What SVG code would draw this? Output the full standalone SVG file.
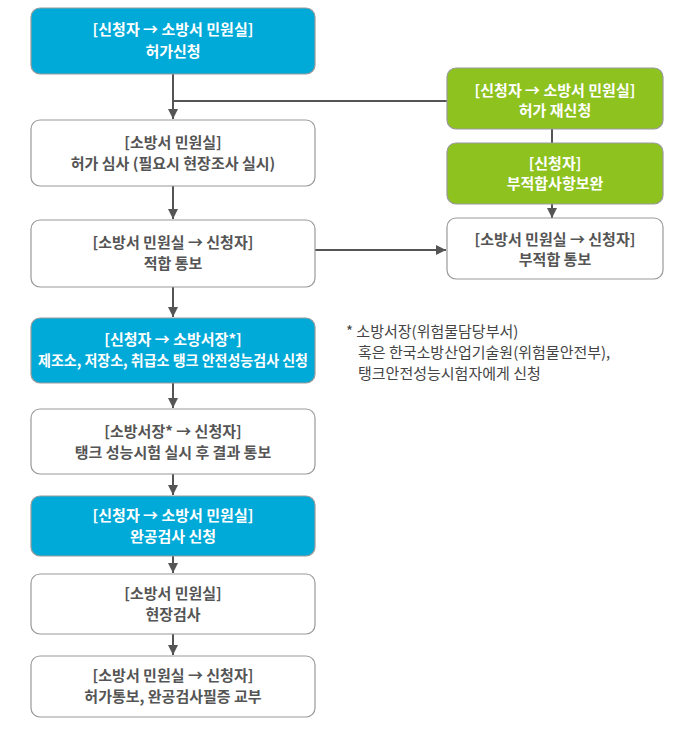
<svg xmlns="http://www.w3.org/2000/svg" width="685" height="746" viewBox="0 0 685 746">
<defs>
<style>
.box{stroke:#999;stroke-width:1.2}
.cyan{fill:#00aad8}
.green{fill:#8dc21f}
.white{fill:#fff}
.t{font-family:"Noto Sans CJK KR","Noto Sans",sans-serif;font-size:15px;font-weight:bold;text-anchor:middle}
.tw{fill:#fff}
.tg{fill:#555}
.note{font-family:"Noto Sans CJK KR","Noto Sans",sans-serif;font-size:15px;fill:#444}
.c{stroke:#555;stroke-width:2;fill:none}
</style>
<marker id="ah" viewBox="0 0 10 10" refX="10" refY="5" markerWidth="5" markerHeight="5" orient="auto" markerUnits="strokeWidth">
<path d="M0,0 L10,5 L0,10 Z" fill="#555"/>
</marker>
</defs>
<rect width="685" height="746" fill="#fff"/>
<g id="connectors">
<line class="c" x1="173" y1="74" x2="173" y2="119" marker-end="url(#ah)"/>
<line class="c" x1="173" y1="101" x2="447" y2="101"/>
<line class="c" x1="173" y1="186" x2="173" y2="219" marker-end="url(#ah)"/>
<line class="c" x1="173" y1="287" x2="173" y2="317" marker-end="url(#ah)"/>
<line class="c" x1="315" y1="250" x2="446" y2="250" marker-end="url(#ah)"/>
<line class="c" x1="552" y1="129" x2="552" y2="143"/>
<line class="c" x1="552" y1="204" x2="552" y2="218" marker-end="url(#ah)"/>
<line class="c" x1="173" y1="383" x2="173" y2="408" marker-end="url(#ah)"/>
<line class="c" x1="173" y1="474" x2="173" y2="495" marker-end="url(#ah)"/>
<line class="c" x1="173" y1="556" x2="173" y2="573" marker-end="url(#ah)"/>
<line class="c" x1="173" y1="634" x2="173" y2="655" marker-end="url(#ah)"/>
</g>
<g id="n1">
<rect class="box cyan" x="31" y="8" width="284" height="66" rx="9"/>
<text class="t tw" x="173" y="35">[신청자 → 소방서 민원실]</text>
<text class="t tw" x="173" y="57">허가신청</text>
</g>
<g id="n2">
<rect class="box white" x="31" y="120" width="284" height="66" rx="9"/>
<text class="t tg" x="173" y="148">[소방서 민원실]</text>
<text class="t tg" x="173" y="169">허가 심사 (필요시 현장조사 실시)</text>
</g>
<g id="n3">
<rect class="box white" x="31" y="220" width="284" height="67" rx="9"/>
<text class="t tg" x="173" y="248">[소방서 민원실 → 신청자]</text>
<text class="t tg" x="173" y="269">적합 통보</text>
</g>
<g id="r1">
<rect class="box green" x="447" y="68" width="216" height="61" rx="9"/>
<text class="t tw" x="555" y="96">[신청자 → 소방서 민원실]</text>
<text class="t tw" x="555" y="116">허가 재신청</text>
</g>
<g id="r2">
<rect class="box green" x="447" y="143" width="216" height="61" rx="9"/>
<text class="t tw" x="555" y="169">[신청자]</text>
<text class="t tw" x="555" y="189">부적합사항보완</text>
</g>
<g id="r3">
<rect class="box white" x="447" y="218" width="216" height="61" rx="9"/>
<text class="t tg" x="555" y="245">[소방서 민원실 → 신청자]</text>
<text class="t tg" x="555" y="265">부적합 통보</text>
</g>
<g id="n4">
<rect class="box cyan" x="31" y="318" width="284" height="65" rx="9"/>
<text class="t tw" x="173" y="345">[신청자 → 소방서장*]</text>
<text class="t tw" x="173" y="366" textLength="270" lengthAdjust="spacingAndGlyphs">제조소, 저장소, 취급소 탱크 안전성능검사 신청</text>
</g>
<g id="note">
<text class="note" x="346" y="337">* 소방서장(위험물담당부서)</text>
<text class="note" x="358" y="358">혹은 한국소방산업기술원(위험물안전부),</text>
<text class="note" x="358" y="379">탱크안전성능시험자에게 신청</text>
</g>
<g id="n5">
<rect class="box white" x="31" y="409" width="284" height="65" rx="9"/>
<text class="t tg" x="173" y="437">[소방서장* → 신청자]</text>
<text class="t tg" x="173" y="458">탱크 성능시험 실시 후 결과 통보</text>
</g>
<g id="n6">
<rect class="box cyan" x="31" y="496" width="284" height="60" rx="9"/>
<text class="t tw" x="173" y="521">[신청자 → 소방서 민원실]</text>
<text class="t tw" x="173" y="542">완공검사 신청</text>
</g>
<g id="n7">
<rect class="box white" x="31" y="574" width="284" height="60" rx="9"/>
<text class="t tg" x="173" y="599">[소방서 민원실]</text>
<text class="t tg" x="173" y="620">현장검사</text>
</g>
<g id="n8">
<rect class="box white" x="31" y="656" width="284" height="61" rx="9"/>
<text class="t tg" x="173" y="681">[소방서 민원실 → 신청자]</text>
<text class="t tg" x="173" y="702">허가통보, 완공검사필증 교부</text>
</g>
</svg>
